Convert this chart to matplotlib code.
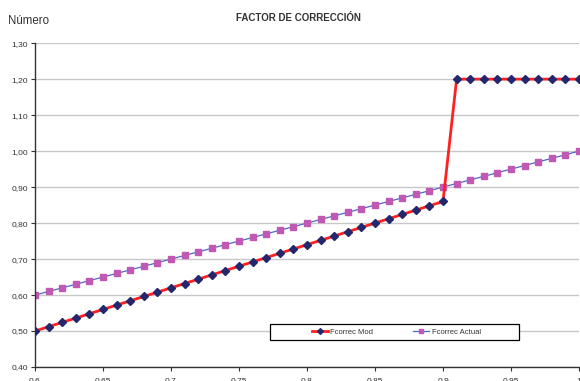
import matplotlib.pyplot as plt
from matplotlib.patches import Rectangle
from matplotlib.ticker import FixedLocator, FuncFormatter

plt.rcParams['font.family'] = ['Liberation Sans', 'DejaVu Sans']

# factor values, x from 0.60 to 1.00 step 0.01
x_vals = [0.60, 0.61, 0.62, 0.63, 0.64, 0.65, 0.66, 0.67, 0.68, 0.69,
          0.70, 0.71, 0.72, 0.73, 0.74, 0.75, 0.76, 0.77, 0.78, 0.79,
          0.80, 0.81, 0.82, 0.83, 0.84, 0.85, 0.86, 0.87, 0.88, 0.89,
          0.90, 0.91, 0.92, 0.93, 0.94, 0.95, 0.96, 0.97, 0.98, 0.99, 1.00]
fcorrec_mod = [0.500, 0.512, 0.524, 0.536, 0.548, 0.560, 0.572, 0.584, 0.596, 0.608,
               0.620, 0.632, 0.644, 0.656, 0.668, 0.680, 0.692, 0.704, 0.716, 0.728,
               0.740, 0.752, 0.764, 0.776, 0.788, 0.800, 0.812, 0.824, 0.836, 0.848,
               0.860, 1.20, 1.20, 1.20, 1.20, 1.20, 1.20, 1.20, 1.20, 1.20, 1.20]
fcorrec_actual = [0.60, 0.61, 0.62, 0.63, 0.64, 0.65, 0.66, 0.67, 0.68, 0.69,
                  0.70, 0.71, 0.72, 0.73, 0.74, 0.75, 0.76, 0.77, 0.78, 0.79,
                  0.80, 0.81, 0.82, 0.83, 0.84, 0.85, 0.86, 0.87, 0.88, 0.89,
                  0.90, 0.91, 0.92, 0.93, 0.94, 0.95, 0.96, 0.97, 0.98, 0.99, 1.00]
y_ticks = [0.40, 0.50, 0.60, 0.70, 0.80, 0.90, 1.00, 1.10, 1.20, 1.30]
x_ticks = [0.6, 0.65, 0.7, 0.75, 0.8, 0.85, 0.9, 0.95, 1.0]

fig = plt.figure(figsize=(5.8, 3.81), dpi=100)
ax = fig.add_axes([0.0603, 0.0367, 0.938, 0.850])

ax.plot(x_vals, fcorrec_mod, color='#ff2020', lw=2.0, marker='D', ms=4.2,
        markerfacecolor='#23286e', markeredgecolor='#23286e', label='Fcorrec Mod', zorder=3)
ax.plot(x_vals, fcorrec_actual, color='#4a6ac4', lw=0.9, marker='s', ms=3.7,
        markerfacecolor='#c058b4', markeredgecolor='#c058b4', label='Fcorrec Actual', zorder=2)

ax.set_xlim(0.6, 1.0)
ax.set_ylim(0.4, 1.3)
ax.yaxis.set_major_locator(FixedLocator(y_ticks))
ax.yaxis.set_major_formatter(FuncFormatter(lambda v, p: f'{v:.2f}'.replace('.', ',')))
ax.xaxis.set_major_locator(FixedLocator(x_ticks))
ax.xaxis.set_major_formatter(FuncFormatter(lambda v, p: f'{v:g}'))
ax.grid(axis='y', color='#c8c8c8', lw=1.0)
ax.set_axisbelow(True)
for s in ['top', 'right']:
    ax.spines[s].set_visible(False)
for s in ['left', 'bottom']:
    ax.spines[s].set_color('#333333')
    ax.spines[s].set_linewidth(1.0)
ax.tick_params(axis='both', labelsize=6, length=3, width=0.8, color='#333333',
               labelcolor='#333333', pad=2)
ax.tick_params(axis='x', pad=5)

# legend box drawn as its own rectangle, entries centred inside
box = Rectangle((0.432, 0.083), 0.458, 0.049, transform=ax.transAxes, fill=True,
                facecolor='white', edgecolor='black', lw=0.9, zorder=4)
ax.add_patch(box)
leg = ax.legend(loc='center', bbox_to_anchor=(0.664, 0.108), ncol=2, fontsize=5.5,
                frameon=False, handlelength=2.1, handletextpad=0.3, columnspacing=5.3,
                markerscale=0.7, labelcolor='#333333', borderpad=0.1)
leg.set_zorder(5)

fig.text(0.515, 0.952, 'FACTOR DE CORRECCIÓN', ha='center', va='center',
         fontsize=7, fontweight='bold', color='#333333')
fig.text(0.014, 0.945, 'Número', ha='left', va='center', fontsize=8.3, color='#333333')

fig.savefig('out.png', dpi=100)
